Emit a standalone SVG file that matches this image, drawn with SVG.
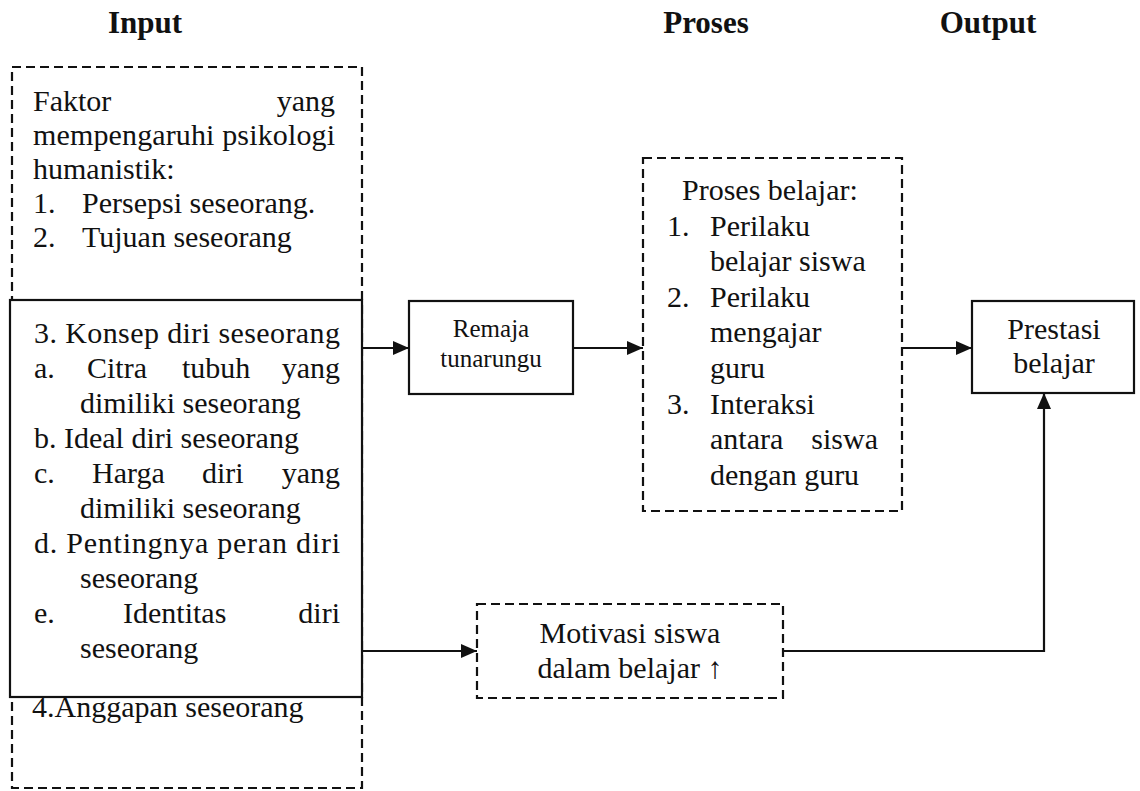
<svg xmlns="http://www.w3.org/2000/svg" width="1140" height="791" viewBox="0 0 1140 791">
<style>
text{font-family:"Liberation Serif","Times New Roman",serif;fill:#111;}
.t{font-size:30px;}
.h{font-size:31px;font-weight:bold;}
.s{font-size:25px;}
.solid{fill:#fff;stroke:#111;stroke-width:2.2;}
.dash{fill:none;stroke:#111;stroke-width:2.2;stroke-dasharray:9,5;}
.c{fill:none;stroke:#111;stroke-width:2.2;}
</style>
<defs>
<marker id="a" markerWidth="16" markerHeight="14" refX="16" refY="7" orient="auto" markerUnits="userSpaceOnUse">
<path d="M0,0 L16,7 L0,14 z" fill="#111"/>
</marker>
</defs>
<g id="headers">
<text class="h" x="145" y="33" text-anchor="middle">Input</text>
<text class="h" x="706" y="33" text-anchor="middle">Proses</text>
<text class="h" x="988" y="33" text-anchor="middle">Output</text>
</g>
<g id="input-outer">
<rect class="dash" x="12" y="67" width="350" height="721"/>
<text class="t" x="33" y="111">Faktor</text>
<text class="t" x="335" y="111" text-anchor="end">yang</text>
<text class="t" x="33" y="145" textLength="302" lengthAdjust="spacing">mempengaruhi psikologi</text>
<text class="t" x="33" y="179">humanistik:</text>
<text class="t" x="33" y="213">1.</text>
<text class="t" x="82" y="213">Persepsi seseorang.</text>
<text class="t" x="33" y="247">2.</text>
<text class="t" x="82" y="247">Tujuan seseorang</text>
<text class="t" x="32" y="717">4.Anggapan seseorang</text>
</g>
<g id="input-konsep">
<rect class="solid" x="10" y="300" width="352" height="397"/>
<text class="t" x="34" y="343" textLength="306" lengthAdjust="spacing">3. Konsep diri seseorang</text>
<text class="t" x="34" y="378">a.</text>
<text class="t" x="87" y="378">Citra</text>
<text class="t" x="182" y="378">tubuh</text>
<text class="t" x="340" y="378" text-anchor="end">yang</text>
<text class="t" x="80" y="413">dimiliki seseorang</text>
<text class="t" x="34" y="448">b. Ideal diri seseorang</text>
<text class="t" x="34" y="483">c.</text>
<text class="t" x="92" y="483">Harga</text>
<text class="t" x="202" y="483">diri</text>
<text class="t" x="340" y="483" text-anchor="end">yang</text>
<text class="t" x="80" y="518">dimiliki seseorang</text>
<text class="t" x="34" y="553" textLength="306" lengthAdjust="spacing">d. Pentingnya peran diri</text>
<text class="t" x="80" y="588">seseorang</text>
<text class="t" x="34" y="623">e.</text>
<text class="t" x="123" y="623">Identitas</text>
<text class="t" x="340" y="623" text-anchor="end">diri</text>
<text class="t" x="80" y="658">seseorang</text>
</g>
<g id="remaja">
<rect class="solid" x="409" y="301" width="164" height="93"/>
<text class="s" x="491" y="337" text-anchor="middle">Remaja</text>
<text class="s" x="491" y="367" text-anchor="middle">tunarungu</text>
</g>
<g id="proses">
<rect class="dash" x="643" y="158" width="259" height="353"/>
<text class="t" x="682" y="200">Proses belajar:</text>
<text class="t" x="667" y="236">1.</text>
<text class="t" x="710" y="236">Perilaku</text>
<text class="t" x="710" y="271">belajar siswa</text>
<text class="t" x="667" y="307">2.</text>
<text class="t" x="710" y="307">Perilaku</text>
<text class="t" x="710" y="342">mengajar</text>
<text class="t" x="710" y="378">guru</text>
<text class="t" x="667" y="414">3.</text>
<text class="t" x="710" y="414">Interaksi</text>
<text class="t" x="710" y="449">antara</text>
<text class="t" x="878" y="449" text-anchor="end">siswa</text>
<text class="t" x="710" y="485">dengan guru</text>
</g>
<g id="prestasi">
<rect class="solid" x="972" y="301" width="162" height="92"/>
<text class="t" x="1054" y="339" text-anchor="middle">Prestasi</text>
<text class="t" x="1054" y="373" text-anchor="middle">belajar</text>
</g>
<g id="motivasi">
<rect class="dash" x="477" y="604" width="306" height="94"/>
<text class="t" x="630" y="643" text-anchor="middle">Motivasi siswa</text>
<text class="t" x="630" y="678" text-anchor="middle">dalam belajar ↑</text>
</g>
<g id="connectors">
<line class="c" x1="362" y1="348" x2="409" y2="348" marker-end="url(#a)"/>
<line class="c" x1="573" y1="348" x2="643" y2="348" marker-end="url(#a)"/>
<line class="c" x1="902" y1="348" x2="972" y2="348" marker-end="url(#a)"/>
<line class="c" x1="362" y1="651" x2="477" y2="651" marker-end="url(#a)"/>
<polyline class="c" points="783,651 1044,651 1044,393" marker-end="url(#a)"/>
</g>
</svg>
